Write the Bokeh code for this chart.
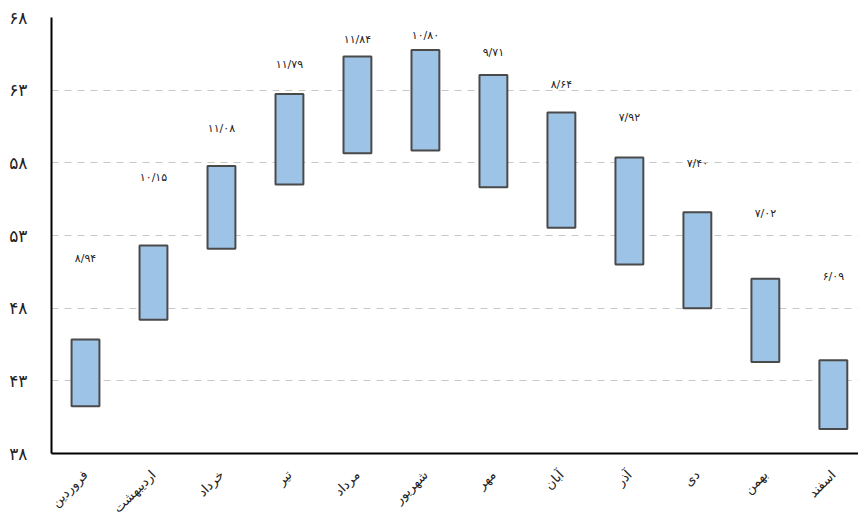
import math
from bokeh.plotting import figure
from bokeh.models import Range1d, FixedTicker, ColumnDataSource
from bokeh.core.properties import value
from bokeh.embed import file_html
from bokeh.resources import INLINE

months = ["فروردین", "اردیبهشت", "خرداد", "تیر", "مرداد", "شهریور",
          "مهر", "آبان", "آذر", "دی", "بهمن", "اسفند"]
lows = [41.25, 47.21, 52.09, 56.51, 58.66, 58.85, 56.32, 53.53, 51.01, 47.99, 44.30, 39.69]
highs = [45.84, 52.32, 57.79, 62.74, 65.31, 65.77, 64.05, 61.46, 58.36, 54.60, 50.03, 44.41]
labels = ["۸/۹۴", "۱۰/۱۵", "۱۱/۰۸", "۱۱/۷۹", "۱۱/۸۴", "۱۰/۸۰",
          "۹/۷۱", "۸/۶۴", "۷/۹۲", "۷/۴۰", "۷/۰۲", "۶/۰۹"]
label_at = [51.42, 57.01, 60.36, 64.80, 66.47, 66.75, 65.56, 63.38, 61.13, 57.97, 54.54, 50.21]
y_ticks = [38, 43, 48, 53, 58, 63, 68]
y_tick_labels = ["۳۸", "۴۳", "۴۸", "۵۳", "۵۸", "۶۳", "۶۸"]

xs = [i + 0.5 for i in range(len(months))]
src = ColumnDataSource(dict(x=xs, low=lows, high=highs, lab=labels, ly=label_at))

p = figure(width=858, height=523, output_backend="svg", toolbar_location=None,
           x_range=Range1d(0, 11.87), y_range=Range1d(38, 68),
           min_border_left=51, min_border_top=17, min_border_right=0, min_border_bottom=10)
p.outline_line_color = None
p.background_fill_color = "white"

p.vbar(x="x", bottom="low", top="high", width=0.41, source=src,
       fill_color="#9dc3e6", line_color="#4a4a4a", line_width=2)

p.text(x="x", y="ly", text="lab", source=src, text_align="center", text_baseline="middle",
       text_font=value("DejaVu Sans"), text_font_size="11px", text_color="#222222")

# grid
p.xgrid.visible = False
p.ygrid.ticker = FixedTicker(ticks=y_ticks[1:])
p.ygrid.grid_line_color = "#c8c8c8"
p.ygrid.grid_line_dash = "7 6"
p.ygrid.grid_line_width = 1

# y axis
p.yaxis.ticker = FixedTicker(ticks=y_ticks)
p.yaxis.major_label_overrides = {t: l for t, l in zip(y_ticks, y_tick_labels)}
p.yaxis.major_tick_line_color = None
p.yaxis.minor_tick_line_color = None
p.yaxis.axis_line_color = "black"
p.yaxis.axis_line_width = 2
p.yaxis.major_label_standoff = 18
p.yaxis.major_label_text_font = "DejaVu Sans"
p.yaxis.major_label_text_font_size = "17px"
p.yaxis.major_label_text_color = "#222222"

# x axis
p.xaxis.ticker = FixedTicker(ticks=xs)
p.xaxis.major_label_overrides = {x: m for x, m in zip(xs, months)}
p.xaxis.major_tick_line_color = None
p.xaxis.minor_tick_line_color = None
p.xaxis.axis_line_color = "black"
p.xaxis.axis_line_width = 2
p.xaxis.major_label_orientation = math.pi / 4
p.xaxis.major_label_standoff = 13
p.xaxis.major_label_text_font = "DejaVu Sans"
p.xaxis.major_label_text_font_size = "13px"
p.xaxis.major_label_text_color = "#222222"

open("out.html", "w").write(file_html(p, INLINE))
